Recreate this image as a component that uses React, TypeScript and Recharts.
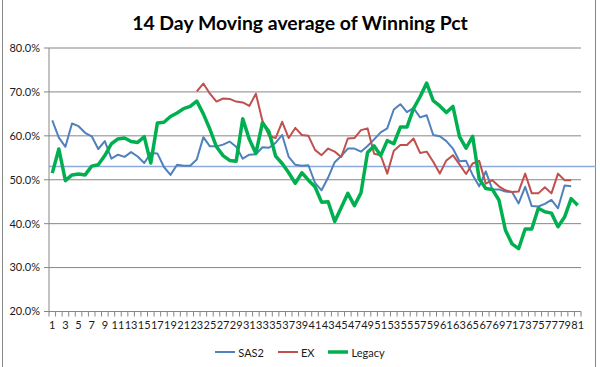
import { LineChart, Line, XAxis, YAxis, CartesianGrid, Legend, ReferenceLine } from "recharts";

// day index 1..81
const DAYS = Array.from({ length: 81 }, (_, i) => i + 1);

const SAS2 = [
  63.5, 59.6, 57.5, 62.8, 62.2, 60.7, 59.9, 57.0, 58.8, 54.8,
  55.7, 55.2, 56.3, 55.3, 53.8, 56.1, 56.0, 52.9, 51.1, 53.4,
  53.2, 53.2, 54.6, 59.7, 57.6, 57.6, 58.0, 58.7, 57.5, 54.8,
  55.7, 55.8, 57.4, 57.3, 58.4, 60.2, 55.2, 53.4, 53.2, 53.3,
  49.3, 47.6, 50.5, 54.0, 55.4, 57.1, 57.1, 56.4, 57.7, 59.2,
  60.8, 61.7, 66.0, 67.2, 65.4, 66.3, 64.2, 64.7, 60.2, 59.9,
  58.8, 57.1, 54.2, 54.3, 51.1, 48.5, 51.9, 47.8, 47.8, 47.3,
  47.2, 44.6, 48.4, 44.0, 43.9, 44.5, 45.4, 43.5, 48.7, 48.5,
];

const EX_START_DAY = 23;
const EX = [
  70.1, 71.9, 69.6, 67.8, 68.5, 68.4, 67.8, 67.6, 66.8, 69.6,
  63.4, 60.0, 59.5, 63.2, 59.5, 61.8, 60.2, 60.0, 56.8, 55.6,
  57.1, 56.4, 55.2, 59.4, 59.5, 61.3, 61.7, 55.9, 55.6, 51.4,
  56.6, 57.9, 57.9, 59.4, 56.1, 56.4, 54.1, 51.4, 54.4, 55.6,
  53.5, 51.3, 53.7, 54.3, 49.1, 49.9, 48.5, 47.6, 47.2, 47.3,
  51.4, 46.9, 46.9, 48.3, 46.9, 51.4, 49.9, 49.9,
];

const LEGACY = [
  51.5, 57.0, 49.8, 51.1, 51.3, 51.1, 53.1, 53.4, 55.5, 58.2,
  59.3, 59.5, 58.7, 58.5, 59.8, 53.8, 62.9, 63.1, 64.4, 65.2,
  66.2, 66.7, 67.9, 65.0, 61.5, 57.5, 55.5, 54.4, 54.2, 63.9,
  59.2, 56.0, 63.0, 60.9, 55.4, 53.7, 51.6, 49.2, 51.6, 49.9,
  48.4, 44.9, 45.0, 40.5, 43.7, 46.9, 44.1, 47.0, 56.2, 57.7,
  55.5, 58.9, 58.2, 62.0, 62.0, 66.2, 68.9, 72.0, 68.0, 66.8,
  65.3, 66.7, 59.8, 57.2, 59.9, 50.2, 48.0, 47.8, 45.4, 38.5,
  35.4, 34.3, 38.8, 38.8, 43.5, 42.7, 42.4, 39.3, 41.5, 45.7,
  44.2,
];

const TARGET = 53;
const Y_TICKS = [20, 30, 40, 50, 60, 70, 80];
const X_LABELS = [
  1, 3, 5, 7, 9, 11, 13, 15, 17, 19, 21, 23, 25, 27, 29, 31, 33, 35, 37, 39, 41,
  43, 45, 47, 49, 51, 53, 55, 57, 59, 61, 63, 65, 67, 69, 71, 73, 75, 77, 79, 81,
];

const SERIES = [
  { key: "sas2", name: "SAS2", color: "#4F81BD", width: 2 },
  { key: "ex", name: "EX", color: "#C0504D", width: 2 },
  { key: "legacy", name: "Legacy", color: "#00B050", width: 3.5 },
];

const data = DAYS.map((day, i) => ({
  day,
  sas2: SAS2[i] ?? null,
  ex: day >= EX_START_DAY ? EX[day - EX_START_DAY] ?? null : null,
  legacy: LEGACY[i] ?? null,
}));

// Excel style: tick marks sit between categories, labels at category centres
const boundaryTicks = Array.from({ length: 82 }, (_, i) => i + 0.5);
const xTicks = [...boundaryTicks, ...X_LABELS];

const FONT = "Lato, 'Open Sans', sans-serif";
const GRID = "#868686";

function XTick(props: any) {
  const { x, y, payload } = props;
  const v = payload.value as number;
  if (Number.isInteger(v)) {
    return (
      <text x={x} y={y + 17.5} textAnchor="middle" fontSize={11} fill="#1a1a1a" fontFamily={FONT}>
        {v}
      </text>
    );
  }
  return <line x1={x} x2={x} y1={y} y2={y + 5} stroke={GRID} strokeWidth={1} />;
}

function LegendContent() {
  return (
    <div
      style={{
        display: "flex",
        justifyContent: "center",
        alignItems: "center",
        gap: 14,
        fontSize: 11,
        fontFamily: FONT,
        color: "#1a1a1a",
        height: 14,
      }}
    >
      {SERIES.map((s) => (
        <div key={s.key} style={{ display: "flex", alignItems: "center" }}>
          <svg width={20} height={10}>
            <line x1={0} y1={5} x2={20} y2={5} stroke={s.color} strokeWidth={s.width} />
          </svg>
          <span style={{ marginLeft: 3 }}>{s.name}</span>
        </div>
      ))}
    </div>
  );
}

export default function App() {
  return (
    <div
      style={{
        position: "absolute",
        left: 0,
        top: 0,
        width: 600,
        height: 367,
        background: "#fff",
        fontFamily: FONT,
        overflow: "hidden",
      }}
    >
      <div
        style={{
          position: "absolute",
          left: 2,
          top: -1,
          width: 594,
          height: 370,
          borderLeft: `1px solid ${GRID}`,
          borderRight: `1px solid ${GRID}`,
          boxSizing: "border-box",
        }}
      />
      <div
        style={{
          position: "absolute",
          top: 11,
          left: 0,
          width: 600,
          textAlign: "center",
          fontSize: 19.4,
          lineHeight: "24px",
          fontWeight: 700,
          color: "#000",
        }}
      >
        14 Day Moving average of Winning Pct
      </div>
      <LineChart width={600} height={367} data={data} margin={{ top: 48, right: 19, bottom: 35.5, left: 0 }}>
        <CartesianGrid vertical={false} stroke={GRID} strokeWidth={1} />
        <XAxis
          dataKey="day"
          type="number"
          domain={[0.5, 81.5]}
          ticks={xTicks}
          interval={0}
          height={20}
          tickSize={0}
          tickMargin={0}
          tickLine={false}
          axisLine={{ stroke: GRID }}
          tick={<XTick />}
        />
        <YAxis
          width={49}
          domain={[20, 80]}
          ticks={Y_TICKS}
          interval={0}
          tickSize={5}
          tickMargin={4}
          tickLine={{ stroke: GRID }}
          axisLine={{ stroke: GRID }}
          tick={{ fill: "#1a1a1a", fontSize: 11, fontFamily: FONT }}
          tickFormatter={(v: number) => `${v.toFixed(1)}%`}
        />
        <ReferenceLine
          y={TARGET}
          stroke="#8EA9DB"
          strokeWidth={1.5}
          shape={(p: any) => (
            <line x1={p.x1} y1={p.y1} x2={p.x2 + 15} y2={p.y2} stroke="#8EA9DB" strokeWidth={1.5} />
          )}
        />
        {SERIES.map((s) => (
          <Line
            key={s.key}
            type="linear"
            dataKey={s.key}
            name={s.name}
            stroke={s.color}
            strokeWidth={s.width}
            strokeLinejoin="round"
            dot={false}
            activeDot={false}
            connectNulls={false}
            isAnimationActive={false}
          />
        ))}
        <Legend
          verticalAlign="middle"
          align="center"
          content={<LegendContent />}
          wrapperStyle={{ top: 345, left: 0, width: 600 }}
        />
      </LineChart>
    </div>
  );
}
